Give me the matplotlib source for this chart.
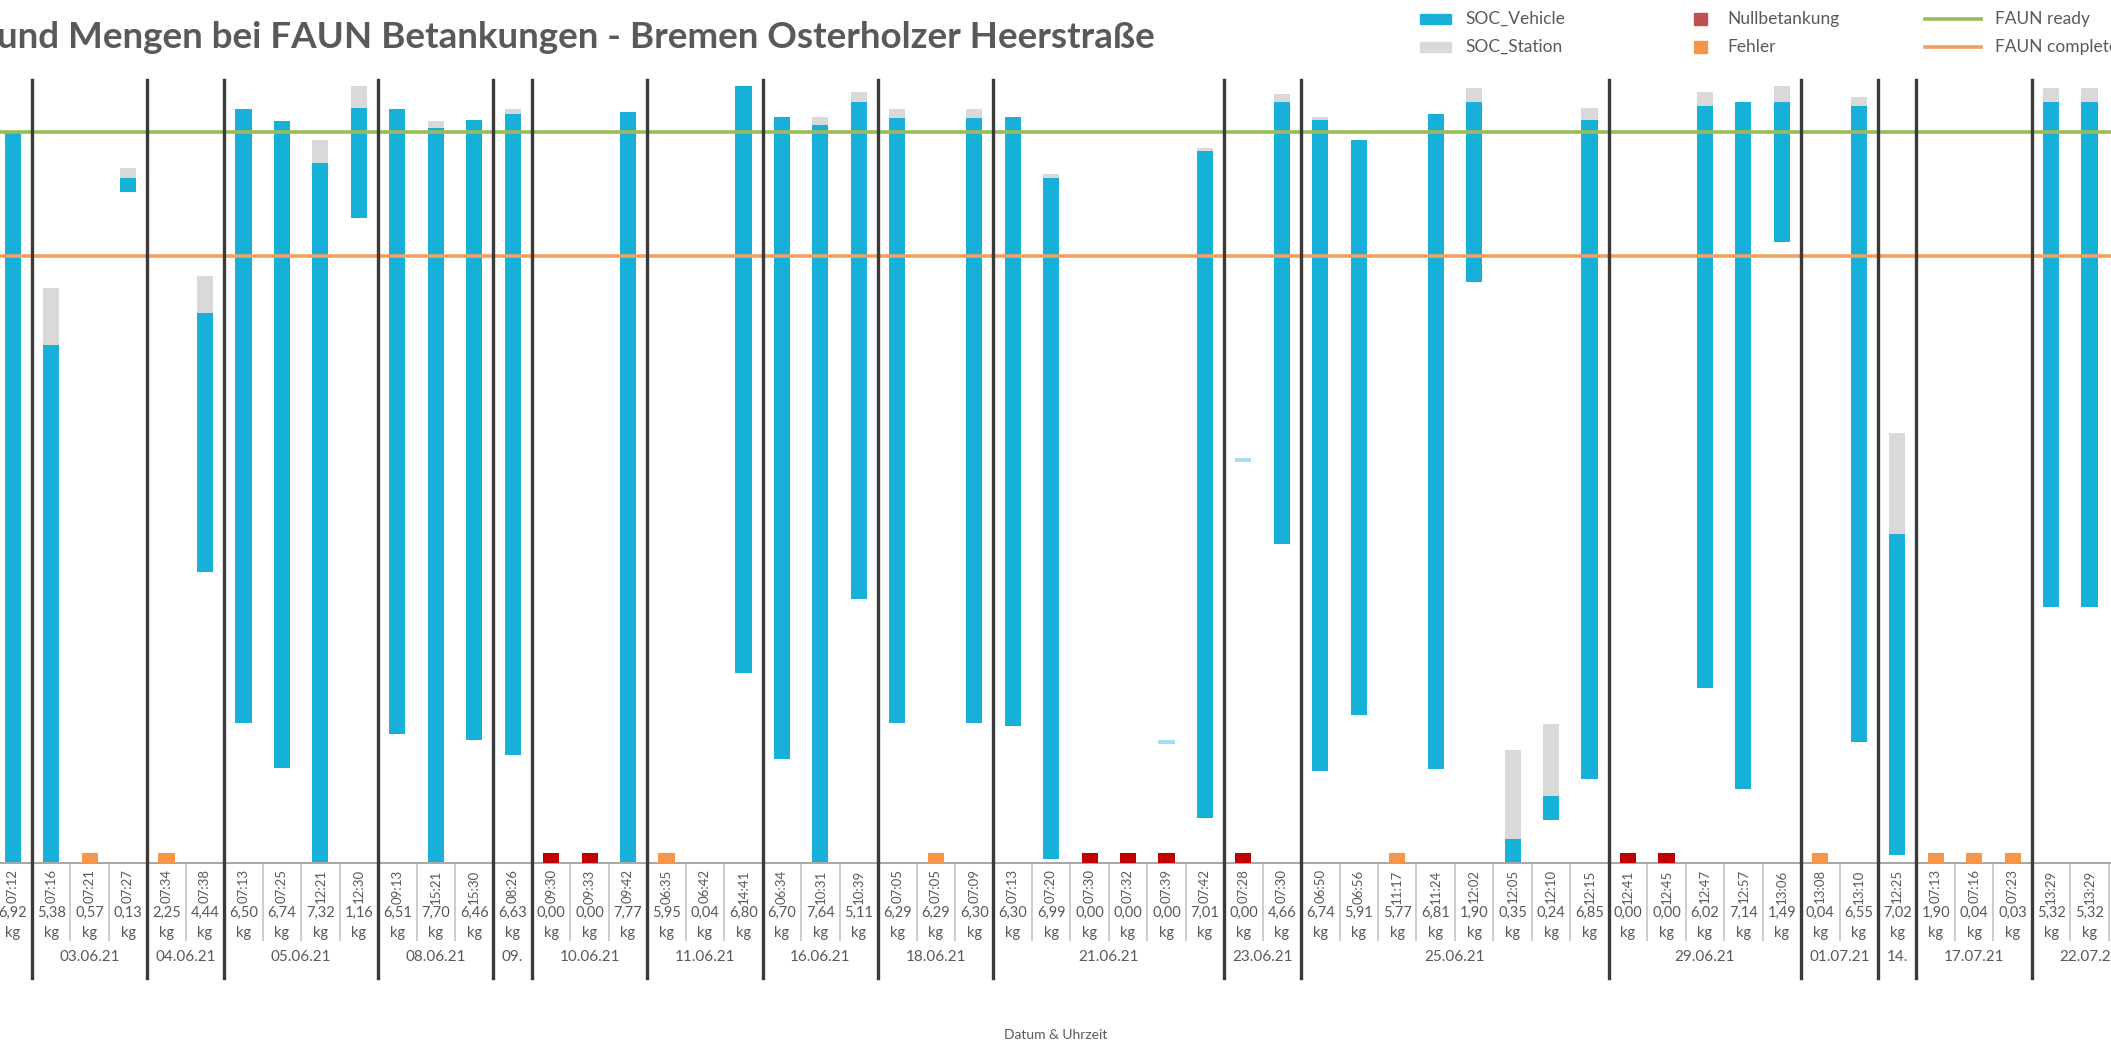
import matplotlib
matplotlib.use("Agg")
import matplotlib.pyplot as plt
import numpy as np
from matplotlib.patches import Rectangle
from matplotlib.lines import Line2D
import matplotlib.transforms as mtransforms

plt.rcParams['font.family'] = ['Lato', 'DejaVu Sans']

# ---------------- data ----------------
nan = np.nan
times = ["07:12", "07:16", "07:21", "07:27", "07:34", "07:38", "07:13", "07:25", "12:21", "12:30",
         "09:13", "15:21", "15:30", "08:26", "09:30", "09:33", "09:42", "06:35", "06:42", "14:41",
         "06:34", "10:31", "10:39", "07:05", "07:05", "07:09", "07:13", "07:20", "07:30", "07:32",
         "07:39", "07:42", "07:28", "07:30", "06:50", "06:56", "11:17", "11:24", "12:02", "12:05",
         "12:10", "12:15", "12:41", "12:45", "12:47", "12:57", "13:06", "13:08", "13:10", "12:25",
         "07:13", "07:16", "07:23", "13:29", "13:29", ""]
amounts = ["6,92", "5,38", "0,57", "0,13", "2,25", "4,44", "6,50", "6,74", "7,32", "1,16",
           "6,51", "7,70", "6,46", "6,63", "0,00", "0,00", "7,77", "5,95", "0,04", "6,80",
           "6,70", "7,64", "5,11", "6,29", "6,29", "6,30", "6,30", "6,99", "0,00", "0,00",
           "0,00", "7,01", "0,00", "4,66", "6,74", "5,91", "5,77", "6,81", "1,90", "0,35",
           "0,24", "6,85", "0,00", "0,00", "6,02", "7,14", "1,49", "0,04", "6,55", "7,02",
           "1,90", "0,04", "0,03", "5,32", "5,32", ""]
date_labels = ["", "03.06.21", "04.06.21", "05.06.21", "08.06.21", "09.", "10.06.21", "11.06.21",
               "16.06.21", "18.06.21", "21.06.21", "23.06.21", "25.06.21", "29.06.21", "01.07.21",
               "14.", "17.07.21", "22.07.21"]
date_counts = [1, 3, 2, 4, 3, 1, 3, 3, 3, 3, 6, 2, 8, 5, 2, 1, 3, 3]

# SOC (vehicle start, vehicle end, station end) in %
soc_start = [0, 0, nan, 82.6, nan, 35.8, 17.2, 11.7, 0, 79.4,
             15.9, 0, 15.1, 13.3, nan, nan, 0, nan, nan, 23.4,
             12.8, 0, 32.5, 17.2, nan, 17.2, 16.9, 0.5, nan, nan,
             nan, 5.5, nan, 39.3, 11.3, 18.2, nan, 11.6, 71.5, 0,
             5.3, 10.4, nan, nan, 21.6, 9.1, 76.5, nan, 14.9, 1.0,
             nan, nan, nan, 31.5, 31.5, nan]
soc_vehicle = [90.0, 63.8, nan, 84.4, nan, 67.7, 92.9, 91.4, 86.2, 93.0,
               92.9, 90.5, 91.5, 92.2, nan, nan, 92.5, nan, nan, 95.7,
               91.9, 90.9, 93.7, 91.7, nan, 91.7, 91.9, 84.4, nan, nan,
               nan, 87.7, nan, 93.7, 91.5, 89.1, nan, 92.2, 93.7, 3.0,
               8.3, 91.5, nan, nan, 93.2, 93.7, 93.7, nan, 93.2, 40.5,
               nan, nan, nan, 93.7, 93.7, nan]
soc_station = [nan, 70.8, nan, 85.6, nan, 72.3, nan, nan, 89.1, 95.7,
               nan, 91.4, nan, 92.9, nan, nan, nan, nan, nan, nan,
               nan, 91.9, 95.0, 92.9, nan, 92.9, nan, 84.9, nan, nan,
               nan, 88.1, nan, 94.7, 91.9, nan, nan, nan, 95.5, 13.9,
               17.1, 93.0, nan, nan, 95.0, nan, 95.7, nan, 94.4, 52.9,
               nan, nan, nan, 95.5, 95.5, nan]
# single SOC readings (no fill) shown as short dash
soc_single = [nan] * 30 + [14.9, nan, 49.6] + [nan] * 23
# status: n = Nullbetankung, e = Fehler
status = ["", "", "e", "", "e", "", "", "", "", "",
          "", "", "", "", "n", "n", "", "e", "", "",
          "", "", "", "", "e", "", "", "", "n", "n",
          "n", "", "n", "", "", "", "e", "", "", "",
          "", "", "n", "n", "", "", "", "e", "", "",
          "e", "e", "e", "", "", ""]
faun_ready = 90
faun_complete = 74.8

# ---------------- styles ----------------
C_BLUE = "#17B0D8"
C_GRAY = "#D9D9D9"
C_RED = "#C00000"
C_ORANGE = "#F79646"
C_GREEN = "#9BBB59"
C_LINE = "#F4A060"
C_DASH = "#A6DCEF"
C_TEXT = "#595959"

W, H = 2111, 1048
fig = plt.figure(figsize=(W / 100, H / 100), dpi=100)
ax_bottom = (H - 863) / H
ax_top = (H - 78) / H
ax = fig.add_axes([0, ax_bottom, 1, ax_top - ax_bottom])

n = len(times)
x = np.arange(n)
s0 = np.array(soc_start, float)
s1 = np.array(soc_vehicle, float)
s2 = np.array(soc_station, float)
bw = 0.42

ax.bar(x, s1 - s0, bottom=s0, width=bw, color=C_BLUE, zorder=2)
ax.bar(x, s2 - s1, bottom=s1, width=bw, color=C_GRAY, zorder=2)
ss = np.array(soc_single, float)
ax.bar(x, np.where(np.isnan(ss), nan, 0.55), bottom=ss - 0.27, width=bw, color=C_DASH, zorder=2)
st = np.array(status)
mk_h = 1.2
ax.bar(x[st == "n"], mk_h, width=bw, color=C_RED, zorder=3)
ax.bar(x[st == "e"], mk_h, width=bw, color=C_ORANGE, zorder=3)

ax.axhline(faun_ready, color=C_GREEN, lw=2.6, zorder=4)
ax.axhline(faun_complete, color=C_LINE, lw=2.6, zorder=4)

ax.set_xlim((0 - 12.7) / 38.46, (W - 12.7) / 38.46)
ax.set_ylim(0, (641 - 58) / 6.03)
for s in ["top", "left", "right"]:
    ax.spines[s].set_visible(False)
ax.spines["bottom"].set_color("#A6A6A6")
ax.spines["bottom"].set_linewidth(1.4)
ax.set_xticks([])
ax.set_yticks([])

trans = mtransforms.blended_transform_factory(ax.transData, ax.transAxes)

# thin separators between categories in the label area
for b in np.arange(n - 1) + 0.5:
    ax.plot([b, b], [0, -0.098], transform=trans, color="#C8C8C8", lw=1.3, clip_on=False, zorder=1)

# category labels
for i in range(n):
    ax.text(i, -0.008, times[i], transform=trans, rotation=90, ha="center", va="top",
            fontsize=9.5, color=C_TEXT, clip_on=False)
    ax.text(i, -0.064, amounts[i], transform=trans, ha="center", va="center",
            fontsize=10.5, color=C_TEXT, clip_on=False)
    if amounts[i]:
        ax.text(i, -0.089, "kg", transform=trans, ha="center", va="center",
                fontsize=10.5, color=C_TEXT, clip_on=False)

# date groups and separators
start = 0
for lab, c in zip(date_labels, date_counts):
    centre = start + (c - 1) / 2
    ax.text(centre, -0.120, lab, transform=trans, ha="center", va="center",
            fontsize=11, color=C_TEXT, clip_on=False)
    end = start + c
    if end < n:
        ax.plot([end - 0.5, end - 0.5], [0.997, -0.147], transform=trans, color="#3A3A3A",
                lw=2.4, clip_on=False, zorder=5)
    start = end

fig.text(0.5, (H - 1035) / H, "Datum & Uhrzeit", ha="center", va="center", fontsize=10, color=C_TEXT)
fig.text(858 / 1568, (H - 37.7) / H, "und Mengen bei FAUN Betankungen - Bremen Osterholzer Heerstraße",
         ha="right", va="center", fontsize=26.5, fontweight="bold", color=C_TEXT)

# legend (manual)
def fx(px):
    return px / W

def fy(py):
    return (H - py) / H

rows = [19, 47]
leg_items = [
    ("patch", C_BLUE, 1420, 1451, rows[0], "SOC_Vehicle", 1465),
    ("patch", C_GRAY, 1420, 1451, rows[1], "SOC_Station", 1465),
    ("square", "#C0504D", 1694, 1707, rows[0], "Nullbetankung", 1727),
    ("square", C_ORANGE, 1694, 1707, rows[1], "Fehler", 1727),
    ("line", C_GREEN, 1925, 1981, rows[0], "FAUN ready", 1995),
    ("line", C_LINE, 1925, 1981, rows[1], "FAUN complete", 1995),
]
for kind, col, x0, x1, yy, lab, tx in leg_items:
    if kind == "patch":
        fig.patches.append(Rectangle((fx(x0), fy(yy + 5)), fx(x1 - x0), 10 / H, color=col,
                                     transform=fig.transFigure))
    elif kind == "square":
        fig.patches.append(Rectangle((fx(x0), fy(yy + 6)), fx(x1 - x0), 12 / H, color=col,
                                     transform=fig.transFigure))
    else:
        fig.lines.append(Line2D([fx(x0), fx(x1)], [fy(yy), fy(yy)], color=col, lw=2.6,
                                transform=fig.transFigure))
    fig.text(fx(tx), fy(yy), lab, ha="left", va="center", fontsize=12.5, color=C_TEXT)

fig.savefig("out.png", dpi=100)
